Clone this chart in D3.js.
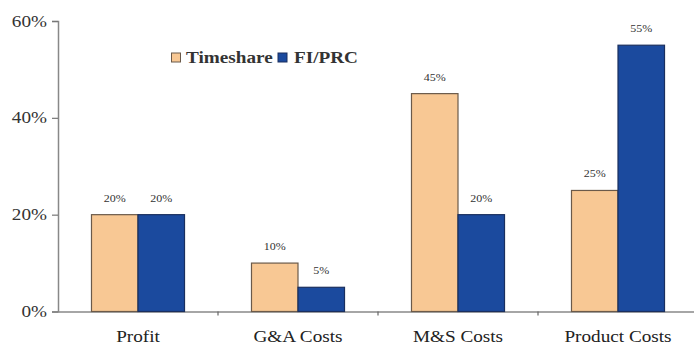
<!DOCTYPE html>
<html><head><meta charset="utf-8">
<script src="https://cdn.jsdelivr.net/npm/d3@7"></script>
<style>body{margin:0;background:#fff}svg{display:block}</style>
</head><body>
<svg id="c" width="694" height="345"></svg>
<script>
const categories = ["Profit", "G&A Costs", "M&S Costs", "Product Costs"];
const seriesNames = ["Timeshare", "FI/PRC"];
const timeshare = [20, 10, 45, 25];
const fiprc = [20, 5, 20, 55];
const yTicks = [0, 20, 40, 60];
const colors = ["#F8C894", "#1B4A9E"];
const strokes = ["#6b5a4a", "#1a2f5e"];

const SX = 1.2; // horizontal text stretch seen in the reference
const svg = d3.select("#c");
const x0 = 58, x1 = 698, yTop = 21, yBot = 311.5;
const x = d3.scaleBand().domain(categories).range([x0, x1]).paddingInner(0).paddingOuter(0);
const xs = d3.scaleBand().domain(seriesNames).range([0, x.bandwidth()]).paddingOuter(0.72).paddingInner(0);
const y = d3.scaleLinear().domain([0, 60]).range([yBot, yTop]);
const font = "'Liberation Serif', 'Times New Roman', serif";

// y axis
const ya = svg.append("g").attr("transform", `translate(${x0},0)`)
  .call(d3.axisLeft(y).tickValues(yTicks).tickFormat(d => d + "%").tickSize(6).tickPadding(5));
ya.select(".domain").attr("stroke", "#888").attr("stroke-width", 1.5);
ya.selectAll(".tick line").attr("stroke", "#777").attr("stroke-width", 1.2);
ya.selectAll("text").attr("font-family", font).attr("font-size", 16).attr("fill", "#333")
  .attr("x", -11 / SX).attr("transform", `scale(${SX},1)`);

// x axis
const xa = svg.append("g").attr("transform", `translate(0,${yBot})`)
  .call(d3.axisBottom(x).tickSize(0));
xa.select(".domain").attr("stroke", "#888").attr("stroke-width", 1.5);
xa.selectAll("text").attr("font-family", font).attr("font-size", 16).attr("fill", "#222")
  .attr("y", 31).attr("dy", 0).attr("transform", `scale(${SX},1)`);
// separator ticks between categories
svg.append("g").selectAll("line").data(categories.slice(1)).join("line")
  .attr("x1", d => x(d)).attr("x2", d => x(d))
  .attr("y1", yBot).attr("y2", yBot + 4).attr("stroke", "#666").attr("stroke-width", 1.2);

const data = categories.map((c, i) => ({c, vals: [timeshare[i], fiprc[i]]}));
const g = svg.append("g").selectAll("g").data(data).join("g")
  .attr("transform", d => `translate(${x(d.c)},0)`);
g.selectAll("rect").data(d => d.vals.map((v, j) => ({v, s: seriesNames[j], j}))).join("rect")
  .attr("x", d => xs(d.s)).attr("width", xs.bandwidth())
  .attr("y", d => y(d.v)).attr("height", d => y(0) - y(d.v))
  .attr("fill", d => colors[d.j]).attr("stroke", d => strokes[d.j]).attr("stroke-width", 1.2);
g.selectAll("text").data(d => d.vals.map((v, j) => ({v, s: seriesNames[j], j}))).join("text")
  .attr("transform", d => `translate(${xs(d.s) + xs.bandwidth() / 2},${y(d.v) - 13}) scale(${SX},1)`)
  .attr("text-anchor", "middle").attr("font-family", font).attr("font-size", 10).attr("fill", "#333")
  .text(d => d.v + "%");

// legend
const leg = svg.append("g");
const legX = [171.5, 278], legTextX = [186, 294];
seriesNames.forEach((s, j) => {
  leg.append("rect").attr("x", legX[j]).attr("y", 53).attr("width", 9).attr("height", 9)
    .attr("fill", colors[j]).attr("stroke", strokes[j]).attr("stroke-width", 1);
  leg.append("text").attr("transform", `translate(${legTextX[j]},63) scale(${SX},1)`)
    .attr("font-family", font).attr("font-size", 16).attr("font-weight", "bold")
    .attr("fill", "#333").text(s);
});
</script>
</body></html>
